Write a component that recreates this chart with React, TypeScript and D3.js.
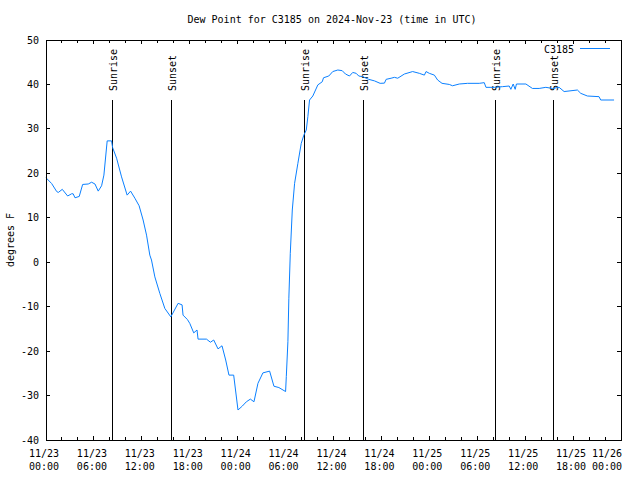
import React from "react";
import * as d3 from "d3";

const TITLE = "Dew Point for C3185 on 2024-Nov-23 (time in UTC)";
const SERIES_NAME = "C3185";
const Y_LABEL = "degrees F";
const START = Date.UTC(2024, 10, 23, 0, 0);
const END = Date.UTC(2024, 10, 26, 0, 0);

// hours since 2024-11-23 00:00 UTC
const hours = [
  0, 0.71, 1.34, 1.54, 2.04, 2.71, 3.21, 3.4, 3.63, 4.16, 4.59, 5.29, 5.71, 6.13, 6.54, 6.96,
  7.25, 7.66, 8.21, 8.34, 8.84, 9.46, 10.16, 10.59, 11.13, 11.66, 12.16, 12.59, 13.0, 13.21,
  13.63, 14.25, 14.88, 15.63, 16.54, 17.04, 17.16, 17.71, 18.0, 18.5, 18.91, 19.04, 20.09,
  20.59, 21.0, 21.54, 22.04, 22.5, 22.91, 23.5, 24.04, 24.59, 25.09, 25.59, 26.04, 26.54,
  27.16, 28.0, 28.54, 29.16, 30.0, 30.09, 30.29, 30.41, 30.59, 30.84, 31.13, 31.54, 31.96,
  32.29, 32.59, 32.79, 33.0, 33.41, 34.04, 34.59, 34.75, 35.41, 35.91, 36.54, 37.09, 37.5,
  38.0, 38.41, 38.84, 39.16, 39.66, 40.41, 41.13, 41.84, 42.38, 42.59, 43.21, 43.63, 44.04,
  44.88, 45.91, 46.75, 47.38, 47.59, 48.0, 48.63, 49.04, 49.59, 50.5, 50.91, 51.75, 52.79,
  54.25, 54.88, 55.09, 56.13, 57.16, 58.0, 58.21, 58.5, 58.75, 58.91, 60.09, 60.91, 61.75,
  62.59, 63.41, 64.25, 64.88, 66.54, 66.96, 67.79, 69.25, 69.46, 71.13,
];
const dewPoint = [
  19.0, 17.7, 15.9, 15.7, 16.4, 14.9, 15.4, 15.4, 14.5, 14.8, 17.5, 17.6, 18.0, 17.6, 16.0, 17.2,
  19.6, 27.3, 27.3, 25.8, 23.4, 19.2, 15.1, 16.0, 14.4, 12.7, 9.5, 6.1, 1.6, 0.5,
  -3.3, -7.0, -10.4, -12.3, -9.25, -9.6, -11.9, -12.9, -13.75, -15.9, -15.25, -17.3, -17.3,
  -18.0, -17.5, -19.5, -18.8, -22.0, -25.4, -25.4, -33.25, -32.35, -31.4, -30.8, -31.4, -27.25,
  -24.9, -24.5, -27.9, -28.2, -29.1, -25.75, -17.9, -8.1, 2.0, 11.75, 17.75, 22.25, 26.75,
  28.6, 29.75, 32.75, 36.5, 37.4, 39.9, 40.6, 41.5, 41.9, 42.9, 43.25, 43.1, 42.35,
  41.9, 42.7, 42.5, 41.9, 41.75, 41.15, 40.8, 40.25, 40.3, 41.15, 41.4, 41.6, 41.4,
  42.35, 42.9, 42.5, 42.1, 42.9, 42.5, 42.1, 41.0, 40.25, 40.0, 39.7, 40.1, 40.25,
  40.25, 40.4, 39.35, 39.35, 39.5, 39.65, 38.9, 40.1, 38.9, 40.1, 40.1, 39.1, 39.1,
  39.35, 39.1, 39.35, 38.4, 38.75, 38.0, 37.4, 37.25, 36.5, 36.5,
];

const sunEventLabels = ["Sunrise", "Sunset", "Sunrise", "Sunset", "Sunrise", "Sunset"];
const sunEventHours = [8.25, 15.625, 32.29, 39.66, 56.25, 63.5];

const yTicks = [-40, -30, -20, -10, 0, 10, 20, 30, 40, 50];

const W = 640;
const H = 480;
const M = { left: 46, right: 19, top: 40, bottom: 40 };
const FONT = "'DejaVu Sans Mono', 'Liberation Mono', monospace";
const LINE_COLOR = "#0a80ff";

export default function App() {
  const x = d3.scaleUtc().domain([new Date(START), new Date(END)]).range([M.left, W - M.right]);
  const y = d3.scaleLinear().domain([-40, 50]).range([H - M.bottom, M.top]);
  const toDate = (h: number) => new Date(START + h * 3600 * 1000);

  const data = hours.map((h, i) => ({ t: toDate(h), v: dewPoint[i] }));
  const line = d3
    .line<{ t: Date; v: number }>()
    .x((d) => x(d.t))
    .y((d) => y(d.v));

  const majorTicks = x.ticks(d3.utcHour.every(6)!);
  const minorTicks = x.ticks(d3.utcHour.every(2)!).filter((t) => t.getUTCHours() % 6 !== 0);
  const fmtDate = d3.utcFormat("%m/%d");
  const fmtTime = d3.utcFormat("%H:%M");

  const x0 = M.left;
  const x1 = W - M.right;
  const y0 = M.top;
  const y1 = H - M.bottom;
  const labelX = (t: Date) => Math.min(x(t) - 2, W - 18 - 15);

  return (
    <svg
      width={W}
      height={H}
      style={{ position: "absolute", left: 0, top: 0, background: "#fff" }}
      fontFamily={FONT}
      fontSize={10}
    >
      <rect x={0} y={0} width={W} height={H} fill="#fff" />
      <text x={W / 2 + 12} y={23} textAnchor="middle" fill="#000">
        {TITLE}
      </text>

      {/* ticks */}
      <g stroke="#000" strokeWidth={1} shapeRendering="crispEdges">
        {majorTicks.map((t, i) => (
          <g key={"M" + i}>
            <line x1={x(t)} x2={x(t)} y1={y1} y2={y1 - 4} />
            <line x1={x(t)} x2={x(t)} y1={y0} y2={y0 + 4} />
          </g>
        ))}
        {minorTicks.map((t, i) => (
          <g key={"m" + i}>
            <line x1={x(t)} x2={x(t)} y1={y1} y2={y1 - 3} />
            <line x1={x(t)} x2={x(t)} y1={y0} y2={y0 + 3} />
          </g>
        ))}
        {yTicks.map((v) => (
          <g key={"y" + v}>
            <line x1={x0} x2={x0 + 4} y1={y(v)} y2={y(v)} />
            <line x1={x1} x2={x1 - 4} y1={y(v)} y2={y(v)} />
          </g>
        ))}
      </g>

      {/* y tick labels */}
      {yTicks.map((v) => (
        <text key={"yl" + v} x={39} y={y(v)} dy="0.35em" textAnchor="end" fill="#000">
          {v}
        </text>
      ))}

      {/* x tick labels */}
      {majorTicks.map((t, i) => (
        <text key={"xl" + i} x={labelX(t)} textAnchor="middle" fill="#000">
          <tspan x={labelX(t)} y={457}>
            {fmtDate(t)}
          </tspan>
          <tspan x={labelX(t)} y={470}>
            {fmtTime(t)}
          </tspan>
        </text>
      ))}

      {/* y axis label */}
      <text transform={`translate(14,240) rotate(-90)`} textAnchor="middle" fill="#000">
        {Y_LABEL}
      </text>

      {/* sun events */}
      {sunEventHours.map((h, i) => {
        const px = Math.round(x(toDate(h))) + 0.5;
        return (
          <g key={"s" + i}>
            <line x1={px} x2={px} y1={100} y2={y1} stroke="#000" strokeWidth={1} />
            <text transform={`translate(${px + 4.5},91) rotate(-90)`} textAnchor="start" fill="#000">
              {sunEventLabels[i]}
            </text>
          </g>
        );
      })}

      {/* data line */}
      <path d={line(data) ?? ""} fill="none" stroke={LINE_COLOR} strokeWidth={1} />

      {/* legend */}
      <text x={574} y={49} dy="0.35em" textAnchor="end" fill="#000">
        {SERIES_NAME}
      </text>
      <line x1={580} x2={610} y1={48.5} y2={48.5} stroke={LINE_COLOR} strokeWidth={1} />

      {/* border */}
      <rect
        x={x0 + 0.5}
        y={y0 + 0.5}
        width={x1 - x0}
        height={y1 - y0}
        fill="none"
        stroke="#000"
        strokeWidth={1}
        shapeRendering="crispEdges"
      />
    </svg>
  );
}
